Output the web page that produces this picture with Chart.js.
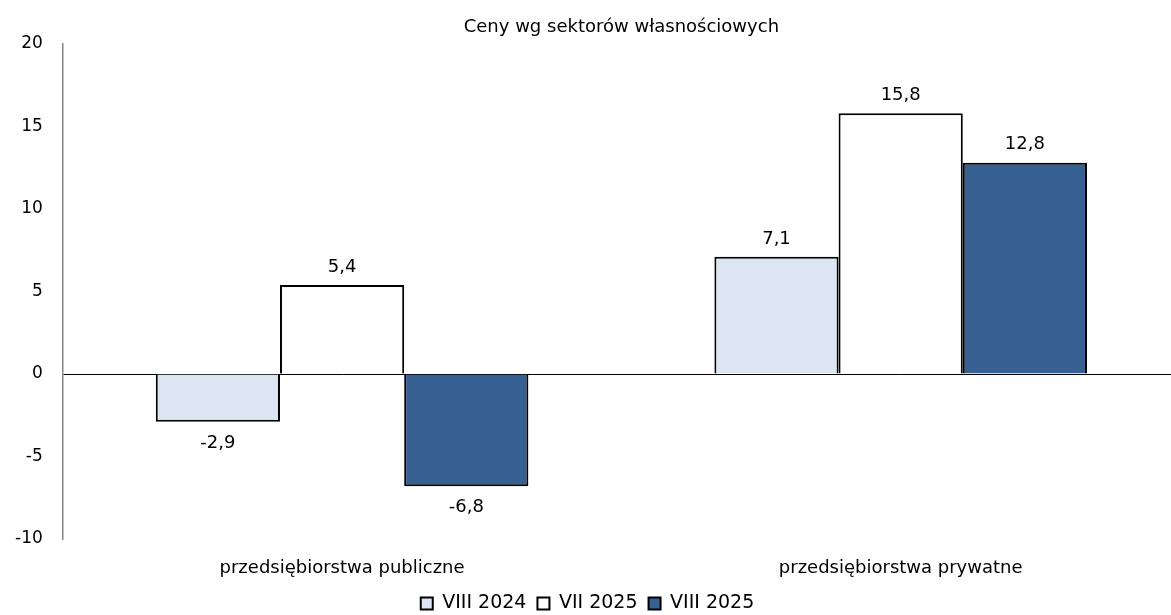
<!DOCTYPE html>
<html>
<head>
<meta charset="utf-8">
<script src="https://cdn.jsdelivr.net/npm/chart.js@4"></script>
<style>
  html, body { margin: 0; padding: 0; background: #fff; overflow: hidden; }
  #wrap { width: 1171px; height: 615px; overflow: hidden; }
</style>
</head>
<body>
<div id="wrap"><canvas id="chart" width="1180" height="615"></canvas></div>
<script>
const categories = ["przedsiębiorstwa publiczne", "przedsiębiorstwa prywatne"];
const seriesNames = ["VIII 2024", "VII 2025", "VIII 2025"];
const viii2024 = [-2.9, 7.1];
const vii2025 = [5.4, 15.8];
const viii2025 = [-6.8, 12.8];
const colors = ["#dce6f2", "#ffffff", "#376092"];
const titleText = "Ceny wg sektorów własnościowych";

const FONT = "'DejaVu Sans', sans-serif";

// value labels above / below each bar, title centred over the plot area
const valueLabels = {
  id: "valueLabels",
  afterDatasetsDraw(chart) {
    const ctx = chart.ctx;
    ctx.save();
    ctx.font = "18px " + FONT;
    ctx.fillStyle = "#000";
    ctx.textAlign = "center";
    chart.data.datasets.forEach((ds, i) => {
      chart.getDatasetMeta(i).data.forEach((bar, j) => {
        const v = ds.data[j];
        const txt = v.toFixed(1).replace(".", ",");
        if (v >= 0) {
          ctx.textBaseline = "bottom";
          ctx.fillText(txt, bar.x, bar.y - 9);
        } else {
          ctx.textBaseline = "top";
          ctx.fillText(txt, bar.x, bar.y + 12);
        }
      });
    });
    const ca = chart.chartArea;
    ctx.textBaseline = "middle";
    ctx.fillText(titleText, (ca.left + ca.right) / 2, 27);
    ctx.restore();
  }
};

new Chart(document.getElementById("chart"), {
  type: "bar",
  data: {
    labels: categories,
    datasets: [viii2024, vii2025, viii2025].map((d, i) => ({
      label: seriesNames[i],
      data: d,
      backgroundColor: colors[i],
      borderColor: "#000",
      borderWidth: 2,
      categoryPercentage: 0.667,
      barPercentage: 1
    }))
  },
  options: {
    responsive: false,
    animation: false,
    layout: { padding: { left: -5, right: 0, top: 44, bottom: -8 } },
    plugins: {
      title: { display: false },
      legend: {
        position: "bottom",
        labels: {
          color: "#000",
          font: { family: FONT, size: 19 },
          boxWidth: 12,
          boxHeight: 12,
          padding: 11
        }
      },
      tooltip: { enabled: false }
    },
    scales: {
      x: {
        grid: { display: false, drawTicks: false },
        border: { display: false },
        ticks: { color: "#000", font: { family: FONT, size: 18 }, padding: 19 },
        afterFit: scale => { scale.height = 44; }
      },
      y: {
        min: -10,
        max: 20,
        ticks: { stepSize: 5, color: "#000", font: { family: FONT, size: 17 }, padding: 20 },
        border: { color: "#868686", width: 1.5 },
        grid: {
          drawTicks: false,
          color: c => c.tick.value === 0 ? "#000" : "transparent",
          lineWidth: 1
        }
      }
    }
  },
  plugins: [valueLabels]
});
</script>
</body>
</html>
